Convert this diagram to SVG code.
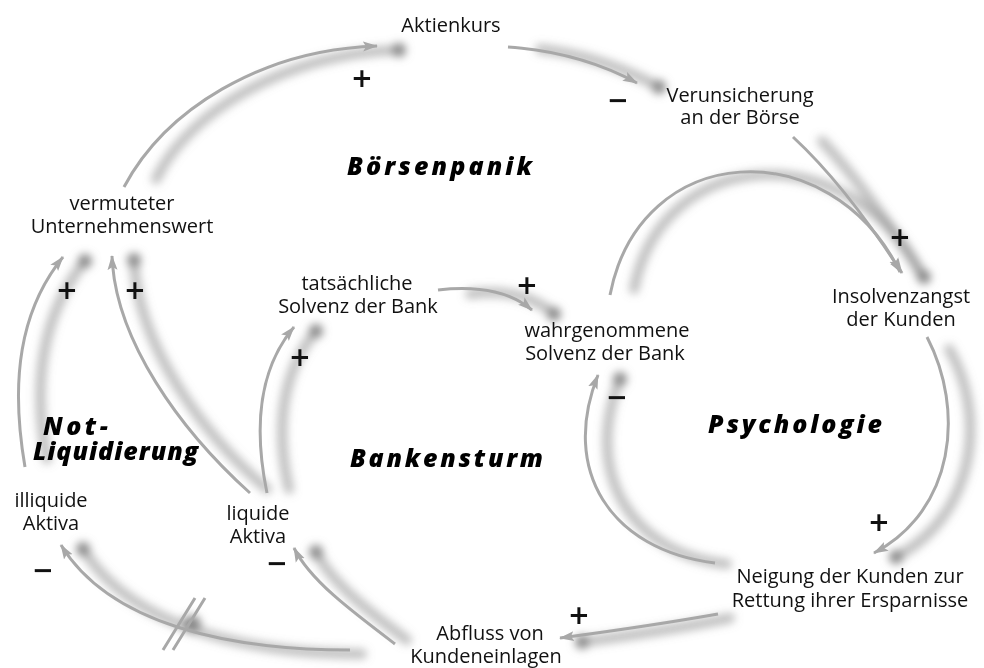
<svg xmlns="http://www.w3.org/2000/svg" width="984" height="668" viewBox="0 0 984 668">
<defs>
<style>
.lbl{font-family:"Open Sans","Liberation Sans",sans-serif;font-size:20px;fill:#111;text-anchor:middle}
.title{font-family:"Open Sans","Liberation Sans",sans-serif;font-size:25px;font-weight:800;font-style:italic;fill:#000}
.sign{font-family:"DejaVu Sans",sans-serif;font-size:26px;font-weight:bold;fill:#111;text-anchor:middle}
.ln{fill:none;stroke:#a8a8a8;stroke-width:3;marker-end:url(#ah)}
.plain{fill:none;stroke:#a8a8a8;stroke-width:3}
.sh{fill:none;stroke:#8a8a8a;stroke-width:10;opacity:0.55;stroke-linecap:round}
</style>
<marker id="ah" markerUnits="userSpaceOnUse" markerWidth="18" markerHeight="12" refX="14" refY="5" orient="auto" viewBox="0 0 18 10">
<path d="M0,0 L15,5 L0,10 L3,5 z" fill="#a8a8a8"/>
</marker>
<filter id="blur" x="-20%" y="-20%" width="140%" height="140%">
<feGaussianBlur stdDeviation="4.5"/>
</filter>
</defs>
<rect width="984" height="668" fill="#fff"/>

<g id="shadows" filter="url(#blur)" transform="translate(22,4)">
<path class="sh" d="M134,175 C165,110 260,50 377,46"/>
<path class="sh" d="M518,45 Q580,52 637,83"/>
<path class="sh" d="M800,137 Q845,185 902,273"/>
<path class="sh" d="M612,285 C640,140 830,130 900,272"/>
<path class="sh" d="M927,345 C965,410 955,510 874,553"/>
<path class="sh" d="M705,560 C610,550 560,470 598,375"/>
<path class="sh" d="M708,614 Q650,626 560,638"/>
<path class="sh" d="M448,290 Q500,283 532,310"/>
<path class="sh" d="M267,485 C252,420 262,365 294,327"/>
<path class="sh" d="M245,485 C180,430 115,340 112,256"/>
<path class="sh" d="M25,455 C10,380 20,310 63,257"/>
<path class="sh" d="M385,636 C350,610 310,580 294,548"/>
<path class="sh" d="M340,650 C230,650 110,625 61,545"/>
<circle cx="377" cy="46" r="7" fill="#888"/>
<circle cx="637" cy="83" r="7" fill="#888"/>
<circle cx="902" cy="273" r="7" fill="#888"/>
<circle cx="874" cy="553" r="7" fill="#888"/>
<circle cx="598" cy="375" r="7" fill="#888"/>
<circle cx="560" cy="638" r="7" fill="#888"/>
<circle cx="532" cy="310" r="7" fill="#888"/>
<circle cx="294" cy="327" r="7" fill="#888"/>
<circle cx="112" cy="256" r="7" fill="#888"/>
<circle cx="63" cy="257" r="7" fill="#888"/>
<circle cx="294" cy="548" r="7" fill="#888"/>
<circle cx="61" cy="545" r="7" fill="#888"/>
<circle cx="170" cy="620" r="9" fill="#888"/>
</g>

<g id="connectors">
<path id="c1" class="ln" d="M124,187 C165,110 260,50 377,46"/>
<path id="c2" class="ln" d="M508,47 Q580,52 637,83"/>
<path id="c3" class="ln" d="M793,137 Q845,185 902,273"/>
<path id="c4" class="ln" d="M610,295 C640,140 830,130 900,272"/>
<path id="c5" class="ln" d="M927,337 C965,410 955,510 874,553"/>
<path id="c6" class="ln" d="M715,563 C610,550 560,470 598,375"/>
<path id="c7" class="ln" d="M718,614 Q650,626 560,638"/>
<path id="c8" class="ln" d="M438,290 Q500,283 532,310"/>
<path id="c9" class="ln" d="M267,493 C252,420 262,365 294,327"/>
<path id="c10" class="ln" d="M250,493 C180,430 115,340 112,256"/>
<path id="c11" class="ln" d="M25,467 C10,380 20,310 63,257"/>
<path id="c12" class="ln" d="M395,644 C350,610 310,580 294,548"/>
<path id="c13" class="ln" d="M350,650 C230,650 110,625 61,545"/>
<path id="delay" class="plain" d="M163,650 L195,598 M173,650 L205,598"/>
</g>

<g id="signs">
<text class="sign" x="362" y="87">+</text>
<text class="sign" x="618" y="109">−</text>
<text class="sign" x="900" y="246">+</text>
<text class="sign" x="527" y="294">+</text>
<text class="sign" x="67" y="299">+</text>
<text class="sign" x="135" y="299">+</text>
<text class="sign" x="300" y="366">+</text>
<text class="sign" x="617" y="406">−</text>
<text class="sign" x="879" y="531">+</text>
<text class="sign" x="579" y="624">+</text>
<text class="sign" x="277" y="572">−</text>
<text class="sign" x="43" y="579">−</text>
</g>

<g id="loop-labels">
<text class="title" x="347" y="175" textLength="185" lengthAdjust="spacing">Börsenpanik</text>
<text class="title" x="708" y="433" textLength="174" lengthAdjust="spacing">Psychologie</text>
<text class="title" x="350" y="467" textLength="193" lengthAdjust="spacing">Bankensturm</text>
<text class="title" x="43" y="435" textLength="65" lengthAdjust="spacing">Not-</text>
<text class="title" x="33" y="460" textLength="165" lengthAdjust="spacing">Liquidierung</text>
</g>

<g id="n-aktienkurs"><text class="lbl" x="451" y="32">Aktienkurs</text></g>
<g id="n-verunsicherung"><text class="lbl" x="740" y="102">Verunsicherung</text><text class="lbl" x="740" y="124">an der Börse</text></g>
<g id="n-insolvenzangst"><text class="lbl" x="901" y="303">Insolvenzangst</text><text class="lbl" x="901" y="326">der Kunden</text></g>
<g id="n-wahrgenommene"><text class="lbl" x="607" y="337">wahrgenommene</text><text class="lbl" x="605" y="360">Solvenz der Bank</text></g>
<g id="n-tatsaechliche"><text class="lbl" x="357" y="290">tatsächliche</text><text class="lbl" x="358" y="313">Solvenz der Bank</text></g>
<g id="n-vermuteter"><text class="lbl" x="122" y="210">vermuteter</text><text class="lbl" x="122" y="233">Unternehmenswert</text></g>
<g id="n-illiquide"><text class="lbl" x="51" y="507">illiquide</text><text class="lbl" x="51" y="530">Aktiva</text></g>
<g id="n-liquide"><text class="lbl" x="258" y="520">liquide</text><text class="lbl" x="258" y="543">Aktiva</text></g>
<g id="n-neigung"><text class="lbl" x="850" y="583">Neigung der Kunden zur</text><text class="lbl" x="850" y="607">Rettung ihrer Ersparnisse</text></g>
<g id="n-abfluss"><text class="lbl" x="490" y="640">Abfluss von</text><text class="lbl" x="486" y="663">Kundeneinlagen</text></g>
</svg>
